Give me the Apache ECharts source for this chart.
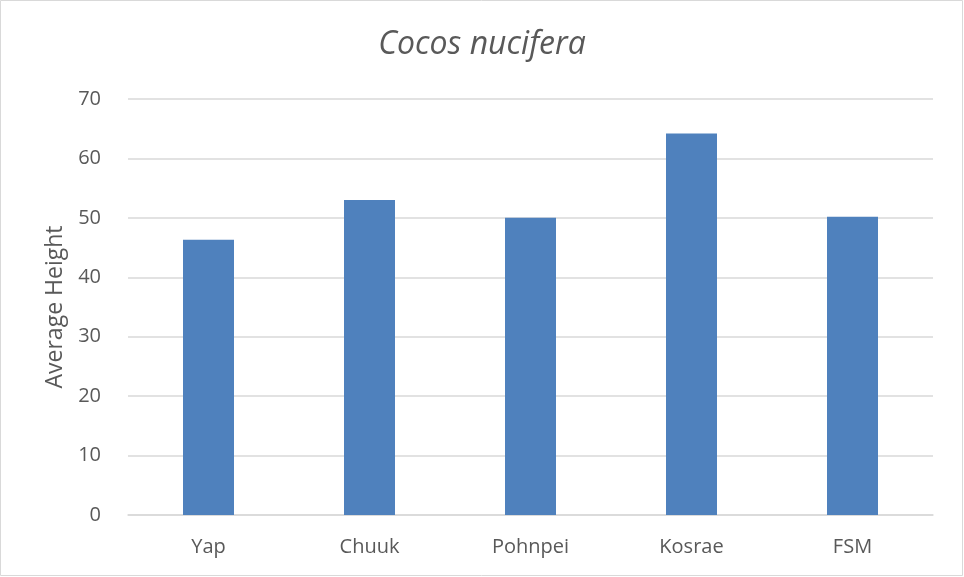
<!DOCTYPE html>
<html>
<head>
<meta charset="utf-8">
<script src="https://cdn.jsdelivr.net/npm/echarts@6/dist/echarts.min.js"></script>
<style>
html,body{margin:0;padding:0;background:#fff;}
#main{width:964px;height:577px;}
</style>
</head>
<body>
<div id="main"></div>
<script>
const categories = ['Yap', 'Chuuk', 'Pohnpei', 'Kosrae', 'FSM'];
const heights = [46.3, 53.0, 50.0, 64.2, 50.2];
const yTicks = { min: 0, max: 70, interval: 10 };
const titleText = 'Cocos nucifera';
const yName = 'Average Height';

const chart = echarts.init(document.getElementById('main'), null, { renderer: 'canvas' });
chart.setOption({
  backgroundColor: '#ffffff',
  animation: false,
  graphic: [{
    type: 'rect',
    shape: { x: 0.5, y: 0.5, width: 962, height: 575 },
    style: { fill: 'none', stroke: '#d9d9d9', lineWidth: 1 },
    silent: true
  }],
  title: {
    text: titleText,
    left: 'center',
    top: 24,
    textStyle: {
      fontFamily: 'Open Sans',
      fontStyle: 'italic',
      fontWeight: 'normal',
      fontSize: 32,
      color: '#595959'
    }
  },
  grid: { left: 128, right: 31, top: 99, bottom: 62 },
  xAxis: {
    type: 'category',
    data: categories,
    axisLine: { lineStyle: { color: '#d9d9d9', width: 1.5 } },
    axisTick: { show: false },
    axisLabel: {
      color: '#595959',
      fontFamily: 'Open Sans',
      fontSize: 20,
      margin: 22
    }
  },
  yAxis: {
    type: 'value',
    min: yTicks.min,
    max: yTicks.max,
    interval: yTicks.interval,
    name: yName,
    nameLocation: 'middle',
    nameGap: 61,
    nameRotate: 90,
    nameTextStyle: {
      color: '#595959',
      fontFamily: 'Open Sans',
      fontSize: 23
    },
    axisLine: { show: false },
    axisTick: { show: false },
    axisLabel: {
      color: '#595959',
      fontFamily: 'Open Sans',
      fontSize: 20,
      margin: 27
    },
    splitLine: { lineStyle: { color: '#d9d9d9', width: 1.5 } }
  },
  series: [{
    type: 'bar',
    data: heights,
    barWidth: 51,
    itemStyle: { color: '#4f81bd' }
  }]
});
</script>
</body>
</html>
